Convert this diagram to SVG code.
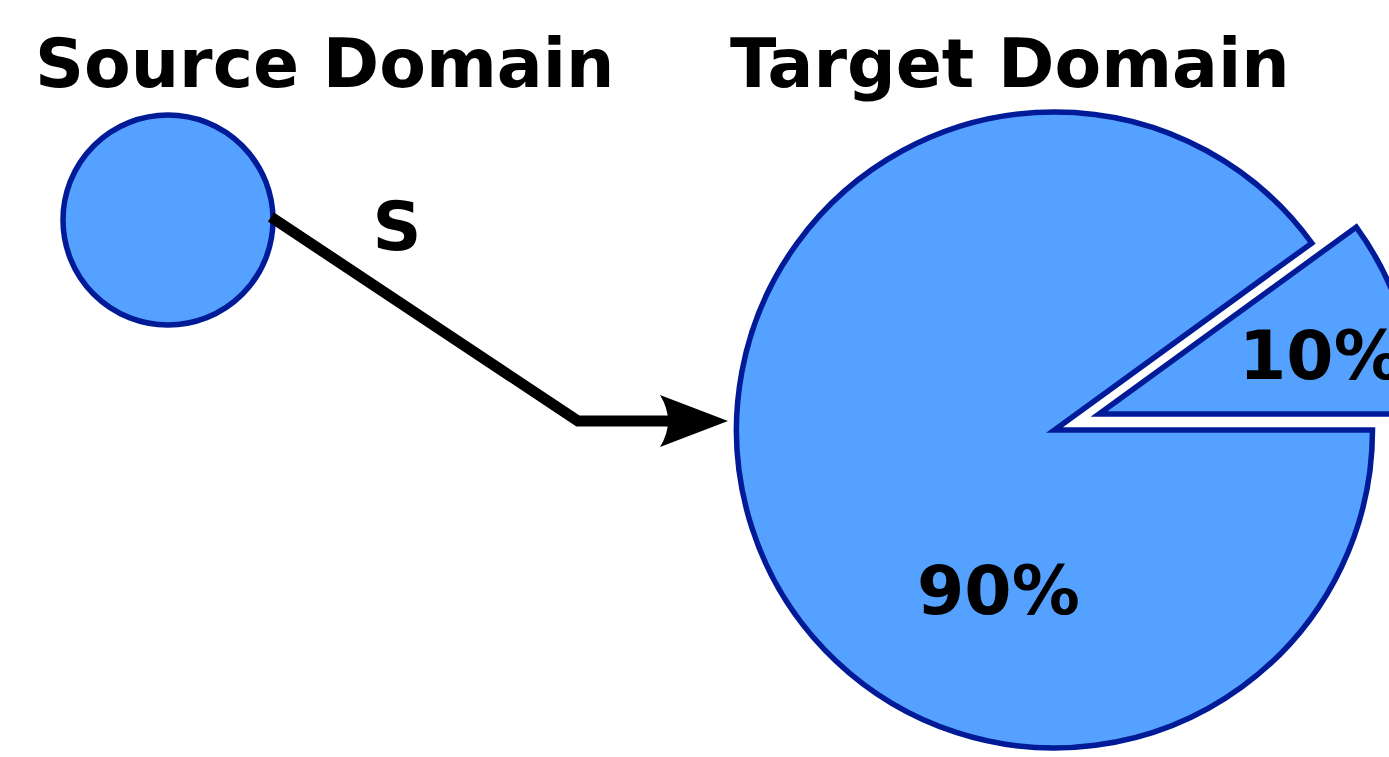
<svg xmlns="http://www.w3.org/2000/svg" width="1389" height="757" viewBox="0 0 1389 757">
  <style>
    .shape { fill: #55a1ff; stroke: #001a98; stroke-width: 5.5; stroke-linejoin: miter; }
    .lbl { font-family: "DejaVu Sans", sans-serif; font-weight: bold; font-size: 68px; fill: #000; }
  </style>
  <rect width="1389" height="757" fill="#fff"/>
  <text class="lbl" x="35" y="87">Source Domain</text>
  <text class="lbl" x="730" y="87">Target Domain</text>
  <g id="source">
    <circle class="shape" cx="168" cy="220" r="105"/>
  </g>
  <g id="connectors">
    <polyline points="271,217 578,421 670,421" fill="none" stroke="#000" stroke-width="11"/>
    <path d="M728,421 L660,395 Q676,421 660,447 Z" fill="#000"/>
    <text class="lbl" x="397" y="250" text-anchor="middle">S</text>
  </g>
  <g id="target">
    <g id="slice90">
      <path class="shape" d="M1054.5,430 L1372.5,430 A318,318 0 1 1 1311.8,243.1 Z"/>
      <text class="lbl" x="917" y="614">90%</text>
    </g>
    <g id="slice10">
      <path class="shape" d="M1099,414 L1417,414 A318,318 0 0 0 1356.3,227.1 Z"/>
      <text class="lbl" x="1239" y="379">10%</text>
    </g>
  </g>
</svg>
